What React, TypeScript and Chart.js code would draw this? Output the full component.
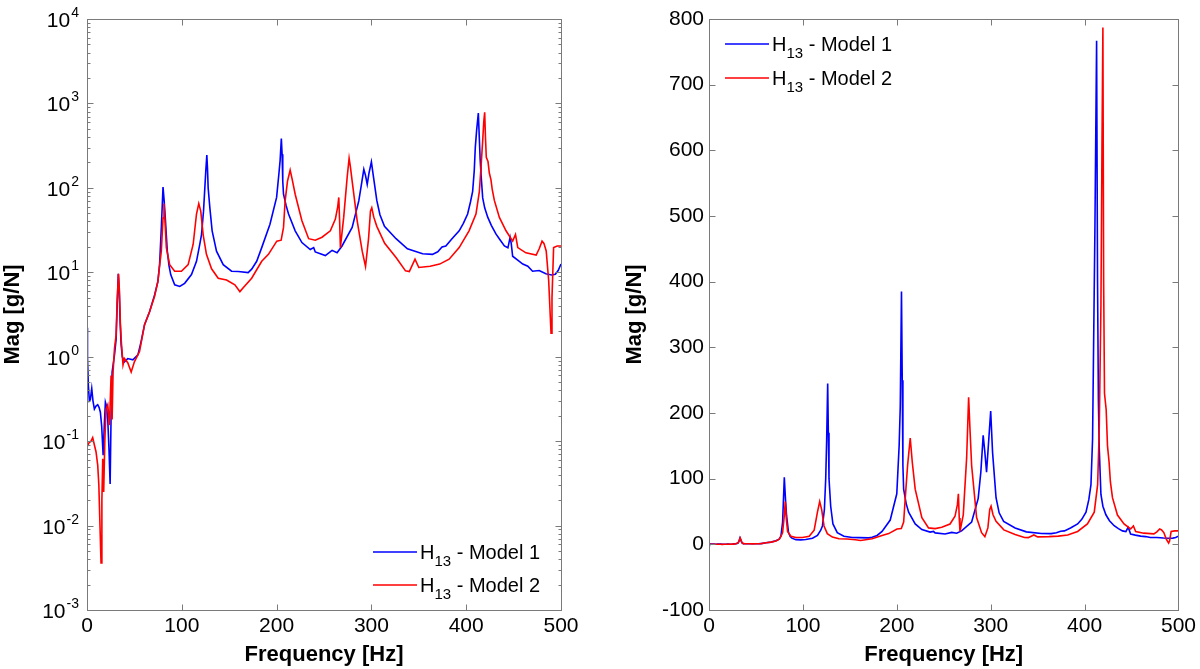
import React, { useEffect, useRef } from "react";
import { Chart, registerables } from "chart.js";

Chart.register(...registerables);

const FONT = '"Liberation Sans", Arial, Helvetica, sans-serif';

// ---- data ----
const freqModel1 = [
  0, 0.5, 1.4, 2.5, 3.5, 5, 6.3, 7.8, 9.5, 11.3,
  12.8, 14.1, 15.5, 17, 18.2, 19.4, 20.6, 21.9, 23.2, 24.4,
  25.4, 26.5, 29, 30.7, 31.8, 33, 34, 35, 36, 37.2,
  39.5, 43, 48.4, 53.7, 57, 60.7, 66, 71.3, 74.8, 76.6,
  78.4, 80.2, 81.4, 82.6, 84.7, 86.5, 88.3, 92.5, 97.8, 103,
  110.2, 115.5, 119, 120.8, 122.9, 124.3, 125.3, 126.4, 127.1, 127.8,
  129.6, 132, 136.6, 143.7, 152.5, 159.6, 170, 173.7, 179, 184.3,
  193, 200, 202.5, 203.7, 205, 205.8, 206.5, 207.3, 210, 212.6,
  219.6, 226.7, 235.5, 239.1, 240.8, 251.4, 258.5, 263.8, 269, 279.7,
  286.7, 289.5, 292, 293.8, 295.6, 297.5, 300, 302, 305.7, 309,
  313.8, 326, 338, 354, 364.4, 370, 374.5, 378.5, 385, 392.6,
  397, 401.5, 404.5, 406.8, 408.5, 409.6, 411, 412.8, 413.8, 414.7,
  415.6, 417.4, 419.5, 422.7, 426.5, 431.5, 436, 440.3, 444, 446.3,
  447.5, 449, 454, 459.7, 465, 470, 477, 484, 490, 494,
  497, 500,
];
const magModel1 = [
  2.2, 1.0, 0.46, 0.3, 0.31, 0.42, 0.3, 0.24, 0.26, 0.27,
  0.25, 0.22, 0.15, 0.068, 0.15, 0.29, 0.26, 0.18, 0.08, 0.031,
  0.2, 0.66, 1.05, 1.6, 4, 9.6, 6, 2.5, 1.4, 1.0,
  0.87, 0.95, 0.92, 1.05, 1.5, 2.4, 3.4, 5.4, 7.8, 12.5,
  34, 102, 70, 44, 17.8, 12, 9.4, 7.1, 6.8, 7.4,
  9.4, 13.5, 21.5, 28, 53, 100, 158, 245, 170, 100,
  58, 31, 17.8, 12.3, 10.3, 10.2, 9.9, 10.9, 13.5, 19.6,
  37, 77, 150, 210, 385, 250, 120, 84, 62, 49,
  31, 22.5, 18.6, 19.6, 17.4, 15.8, 18.2, 17, 20.5, 34,
  70, 110, 166, 140, 110, 150, 203, 140, 71, 48,
  35, 25, 19, 16.6, 16.3, 17.5, 19.9, 20.5, 25, 31,
  38, 49, 68, 91, 160, 302, 480, 767, 400, 220,
  147, 76, 58, 45, 36, 28.3, 24, 20.5, 19.5, 25.9,
  22, 15.5, 14, 12.5, 11.8, 10.3, 10.5, 9.6, 9.3, 9.5,
  10.5, 12.5,
];
const freqModel2 = [
  0, 2, 4.2, 6, 7.8, 9.5, 11.3, 12.5, 13.5, 14.8,
  15.7, 16.6, 17.6, 18.8, 20.1, 21.9, 23.7, 25.4, 26.5, 27.5,
  29, 30.7, 31.8, 33.2, 34.2, 35.2, 36.2, 38, 39.5, 43,
  46.6, 50, 55.4, 60.7, 66, 71.3, 74.8, 76.6, 78.4, 80.2,
  81.2, 82.3, 83.7, 87.2, 92.5, 99.6, 106.7, 112, 115.5, 117.9,
  120, 122.5, 126, 131.4, 138.4, 147.2, 156, 161.3, 165, 173.7,
  184.3, 191.4, 200.2, 204.8, 207.3, 209, 211.5, 214.3, 216.5, 219.6,
  226.7, 233.8, 240.8, 247.9, 256.7, 262, 264.5, 265.6, 266.5, 267.3,
  270.8, 274.4, 276.5, 277.8, 279.7, 285, 290.3, 293.8, 297, 299,
  300.4, 302.5, 305.7, 314, 326, 336, 340, 346, 350, 362,
  372, 382, 392.6, 403, 410.3, 413.9, 415.6, 417.4, 418.5, 419.5,
  420.3, 421.2, 423, 424.4, 426.1, 427.5, 429.7, 435, 442, 449,
  452, 454.4, 463, 473.8, 477, 480, 482, 484.4, 487, 489.5,
  490.5, 492.2, 496, 500,
];
const magModel2 = [
  0.085, 0.095, 0.1, 0.11, 0.09, 0.075, 0.052, 0.03, 0.012, 0.0036,
  0.02, 0.062, 0.025, 0.1, 0.24, 0.27, 0.155, 0.6, 0.18, 0.66,
  1.25, 1.8, 4.5, 9.6, 6, 2.5, 1.5, 0.8, 0.95, 0.85,
  0.66, 0.87, 1.15, 2.4, 3.4, 5.2, 7.8, 12, 17.8, 44,
  65, 40, 19.6, 12.3, 10.3, 10.3, 12.3, 21.5, 49, 65,
  53, 28, 16.3, 11, 8.5, 8.1, 7.1, 5.9, 6.6, 8.5,
  13.5, 16.3, 23.4, 24, 34, 70, 120, 162, 125, 84,
  40.7, 25, 24, 26, 31, 42.7, 60, 77, 40, 19.6,
  45, 132, 224, 180, 120, 40.7, 17.8, 11.7, 25, 53,
  58, 45, 35, 22, 15, 10.4, 10.2, 14.3, 11.4, 11.8,
  12.5, 14.3, 19.6, 31, 49, 91, 174, 363, 600, 787,
  400, 230, 205, 150, 125, 95, 71, 44.6, 31, 23.4,
  28, 19.6, 17, 16, 19, 23.4, 22, 17.9, 8, 1.9,
  5, 19.6, 20.5, 20.5,
];

const xTickValues = [0, 100, 200, 300, 400, 500];
const logExponents = [-3, -2, -1, 0, 1, 2, 3, 4];
const linTickValues = [-100, 0, 100, 200, 300, 400, 500, 600, 700, 800];
const legendMain = "H";
const legendSub = "13";
const seriesNames = [" - Model 1", " - Model 2"];
const seriesColors = ["#0000ff", "#ff0000"];
const xTitle = "Frequency [Hz]";
const yTitle = "Mag [g/N]";

const toPoints = (xs: number[], ys: number[]) => xs.map((x, i) => ({ x, y: ys[i] }));

function decorPlugin(isLog: boolean) {
  return {
    id: "decor",
    afterDraw(chart: any) {
      const { ctx, chartArea: a, scales } = chart;
      const xs = scales.x;
      const ys = scales.y;
      ctx.save();
      ctx.strokeStyle = "#7a7a7a";
      ctx.lineWidth = 1;
      const L = Math.round(a.left) + 0.5;
      const R = Math.round(a.right) + 0.5;
      const T = Math.round(a.top) + 0.5;
      const B = Math.round(a.bottom) + 0.5;
      ctx.strokeRect(L, T, R - L, B - T);
      ctx.beginPath();
      const major = 6;
      const minor = 3;
      for (const v of xTickValues) {
        const px = Math.round(xs.getPixelForValue(v)) + 0.5;
        ctx.moveTo(px, B); ctx.lineTo(px, B - major);
        ctx.moveTo(px, T); ctx.lineTo(px, T + major);
      }
      const yTick = (val: number, len: number) => {
        const py = Math.round(ys.getPixelForValue(val)) + 0.5;
        ctx.moveTo(L, py); ctx.lineTo(L + len, py);
        ctx.moveTo(R, py); ctx.lineTo(R - len, py);
      };
      if (isLog) {
        for (const e of logExponents) {
          yTick(Math.pow(10, e), major);
          if (e < logExponents[logExponents.length - 1]) {
            for (let m = 2; m <= 9; m++) yTick(m * Math.pow(10, e), minor);
          }
        }
      } else {
        for (const v of linTickValues) yTick(v, major);
      }
      ctx.stroke();

      if (isLog) {
        ctx.fillStyle = "#000";
        for (const e of logExponents) {
          const py = ys.getPixelForValue(Math.pow(10, e));
          const expStr = String(e);
          ctx.font = `14px ${FONT}`;
          const expW = ctx.measureText(expStr).width;
          const baseX = a.left - 9 - expW;
          ctx.font = `21px ${FONT}`;
          ctx.textAlign = "right";
          ctx.textBaseline = "alphabetic";
          ctx.fillText("10", baseX, py + 8);
          ctx.font = `14px ${FONT}`;
          ctx.textAlign = "left";
          ctx.fillText(expStr, baseX + 1, py - 2);
        }
      }
      ctx.restore();
    },
  };
}

function legendPlugin(pos: "bottomRight" | "topLeft") {
  return {
    id: "customLegend",
    afterDraw(chart: any) {
      const { ctx, chartArea: a } = chart;
      ctx.save();
      const rows =
        pos === "bottomRight"
          ? [a.bottom - 58, a.bottom - 25]
          : [a.top + 25, a.top + 59];
      const x0 = pos === "bottomRight" ? a.right - 188 : a.left + 16;
      rows.forEach((y, i) => {
        ctx.strokeStyle = seriesColors[i];
        ctx.lineWidth = 1.5;
        ctx.beginPath();
        ctx.moveTo(x0, y);
        ctx.lineTo(x0 + 44, y);
        ctx.stroke();
        ctx.fillStyle = "#000";
        ctx.textAlign = "left";
        ctx.textBaseline = "alphabetic";
        let x = x0 + 47;
        ctx.font = `20px ${FONT}`;
        ctx.fillText(legendMain, x, y + 7);
        x += ctx.measureText(legendMain).width;
        ctx.font = `15px ${FONT}`;
        ctx.fillText(legendSub, x, y + 14);
        x += ctx.measureText(legendSub).width;
        ctx.font = `20px ${FONT}`;
        ctx.fillText(seriesNames[i], x, y + 7);
      });
      ctx.restore();
    },
  };
}

function makeConfig(isLog: boolean): any {
  const tickFont = { family: FONT, size: 21 };
  const titleFont = { family: FONT, size: 22, weight: "bold" as const };
  return {
    type: "line",
    data: {
      datasets: [
        {
          label: "H13 - Model 1",
          data: toPoints(freqModel1, magModel1),
          borderColor: seriesColors[0],
          borderWidth: 1.6,
          pointRadius: 0,
          tension: 0,
          fill: false,
          order: 1,
        },
        {
          label: "H13 - Model 2",
          data: toPoints(freqModel2, magModel2),
          borderColor: seriesColors[1],
          borderWidth: 1.6,
          pointRadius: 0,
          tension: 0,
          fill: false,
          order: 0,
        },
      ],
    },
    options: {
      animation: false,
      responsive: false,
      events: [],
      layout: {
        padding: isLog
          ? { left: 0, right: 39, top: 19, bottom: 0 }
          : { left: 22, right: 17, top: 19, bottom: 0 },
      },
      plugins: {
        legend: { display: false },
        tooltip: { enabled: false },
      },
      scales: {
        x: {
          type: "linear",
          min: 0,
          max: 500,
          ticks: {
            stepSize: 100,
            font: tickFont,
            color: "#000",
            padding: 4,
            maxRotation: 0,
            autoSkip: false,
          },
          grid: { display: false, drawTicks: false },
          border: { display: false },
          title: {
            display: true,
            text: xTitle,
            color: "#000",
            font: titleFont,
            padding: { top: 0, bottom: 1 },
          },
          afterFit: (s: any) => {
            s.height = 59;
          },
        },
        y: isLog
          ? {
              type: "logarithmic",
              min: 0.001,
              max: 10000,
              ticks: { display: false },
              grid: { display: false, drawTicks: false },
              border: { display: false },
              title: {
                display: true,
                text: yTitle,
                color: "#000",
                font: titleFont,
                padding: { top: 0, bottom: 0 },
              },
              afterFit: (s: any) => {
                s.width = 87;
              },
            }
          : {
              type: "linear",
              min: -100,
              max: 800,
              ticks: {
                stepSize: 100,
                font: tickFont,
                color: "#000",
                padding: 5,
                autoSkip: false,
              },
              grid: { display: false, drawTicks: false },
              border: { display: false },
              title: {
                display: true,
                text: yTitle,
                color: "#000",
                font: titleFont,
                padding: { top: 0, bottom: 0 },
              },
              afterFit: (s: any) => {
                s.width = 87;
              },
            },
      },
    },
    plugins: [decorPlugin(isLog), legendPlugin(isLog ? "bottomRight" : "topLeft")],
  };
}

function Panel({ isLog, left }: { isLog: boolean; left: number }) {
  const ref = useRef<HTMLCanvasElement>(null);
  useEffect(() => {
    if (!ref.current) return;
    const chart = new Chart(ref.current, makeConfig(isLog));
    return () => chart.destroy();
  }, [isLog]);
  return (
    <div style={{ position: "absolute", left, top: 0, width: 600, height: 669 }}>
      <canvas ref={ref} width={600} height={669} style={{ display: "block", width: 600, height: 669 }} />
    </div>
  );
}

export default function App() {
  return (
    <div style={{ position: "absolute", left: 0, top: 0, width: 1200, height: 669, background: "#fff", overflow: "hidden" }}>
      <Panel isLog={true} left={0} />
      <Panel isLog={false} left={600} />
    </div>
  );
}
